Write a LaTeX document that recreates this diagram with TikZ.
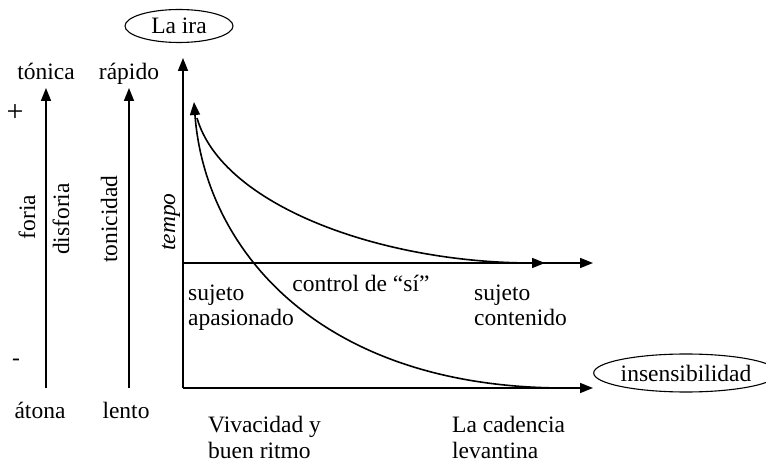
\documentclass[tikz,border=0pt]{standalone}
\usepackage{fontspec}
\setmainfont{Liberation Serif}
\usetikzlibrary{arrows.meta,shapes.geometric}
\begin{document}
\begin{tikzpicture}[x=1pt,y=-1pt,
  every node/.style={font=\fontsize{23.5}{25.5}\selectfont, inner sep=0pt},
  axis/.style={line width=1.7pt, -{Triangle[length=13pt,width=10pt]}},
  curve/.style={line width=1.6pt},
  oval/.style={ellipse, draw, line width=1.1pt},
  lbl/.style={align=left, anchor=base west}]
\useasboundingbox (0,0) rectangle (766,462);
% coordinates
\coordinate (O) at (183,388);
\coordinate (Ytop) at (183,58);
\coordinate (Xend) at (593,388);
\coordinate (M) at (183,263);
\coordinate (Mend) at (593,263);
\coordinate (A1b) at (46,388);
\coordinate (A1t) at (46,88);
\coordinate (A2b) at (129,388);
\coordinate (A2t) at (129,88);
\coordinate (C1s) at (197,118);
\coordinate (C1e) at (545,263);
\coordinate (C2s) at (565,388);
\coordinate (C2e) at (194,102);
% axes
\draw[axis] (O) -- (Ytop);
\draw[axis] (O) -- (Xend);
\draw[axis] (M) -- (Mend);
\draw[axis] (A1b) -- (A1t);
\draw[axis] (A2b) -- (A2t);
% curves
\draw[curve, -{Triangle[length=13pt,width=10pt]}] (C1s) .. controls (222,205) and (380,263) .. (C1e);
\draw[curve, -{Triangle[length=13pt,width=10pt]}] (C2s) .. controls (320,388) and (205,250) .. (C2e);
% ellipses
\node[oval, minimum width=108pt, minimum height=33pt] (ira) at (179,26) {La ira};
\node[oval, minimum width=160pt, minimum height=38pt] (insens) at (686,373) {insensibilidad};
% left labels
\node[anchor=base] (tonica) at (46,80) {tónica};
\node[anchor=base] (rapido) at (129,80) {rápido};
\node[anchor=base] (atona) at (40,418) {átona};
\node[anchor=base] (lento) at (126,418) {lento};
\node[font=\fontsize{30}{32}\selectfont] (plus) at (15,113) {+};
\node (minus) at (16,362) {-};
\node[rotate=90] (foria) at (27,217) {foria};
\node[rotate=90] (disforia) at (61,219) {disforia};
\node[rotate=90] (tonicidad) at (109,219) {tonicidad};
\node[rotate=90] (tempo) at (171,222) {\itshape tempo};
% inner labels
\node[lbl] (apas) at (188,326) {sujeto\\apasionado};
\node[lbl] (cont) at (474,326) {sujeto\\contenido};
\node[anchor=base] (control) at (361,292) {control de “sí”};
\node[lbl] (viv) at (208,458) {Vivacidad y\\buen ritmo};
\node[lbl] (cad) at (452,458) {La cadencia\\levantina};
\end{tikzpicture}
\end{document}
